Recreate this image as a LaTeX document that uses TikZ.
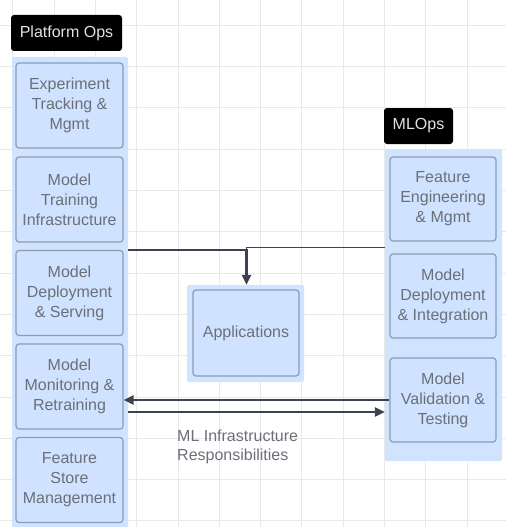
\documentclass[tikz,border=0pt]{standalone}
\usepackage{fontspec}
\setmainfont{Liberation Sans}
\usetikzlibrary{arrows.meta,calc}
\definecolor{gridc}{HTML}{E9E9E9}
\definecolor{contfill}{HTML}{D0E3FF}
\definecolor{boxfill}{HTML}{CFE2FF}
\definecolor{boxdraw}{HTML}{8E9CB0}
\definecolor{txtc}{HTML}{6B7078}
\definecolor{linec}{HTML}{3B4250}
\definecolor{tagtxt}{HTML}{E2E2E2}
\tikzset{
  cont/.style={fill=contfill, draw=none, rounded corners=2pt, inner sep=0pt},
  opbox/.style={fill=boxfill, draw=boxdraw, line width=1.2pt, rounded corners=3pt,
    minimum width=107pt, minimum height=85pt, align=center, text=txtc,
    font=\fontsize{16}{20}\selectfont, inner sep=0pt},
  tag/.style={fill=black, rounded corners=3pt, text=tagtxt, font=\fontsize{16}{20}\selectfont,
    inner sep=0pt},
  conn/.style={draw=linec, line width=2.4pt, -{Triangle[length=10pt,width=9pt]}},
  connb/.style={draw=linec, line width=1.8pt},
  note/.style={text=txtc, align=left, font=\fontsize{16}{19}\selectfont, inner sep=0pt}
}
\begin{document}
\begin{tikzpicture}[x=1pt,y=-1pt]
\useasboundingbox (0,0) rectangle (506,527);
\fill[white] (0,0) rectangle (506,527);
% grid
\foreach \i in {0,...,12} {
  \draw[gridc, line width=1pt] ({12.8+41.3*\i},0) -- ({12.8+41.3*\i},527);
  \draw[gridc, line width=1pt] (0,{25.3+41.3*\i}) -- (506,{25.3+41.3*\i});
}
% tags
\node[tag, minimum width=111pt, minimum height=36pt] (ptag) at (66.5,33) {Platform Ops};
\node[tag, minimum width=69pt, minimum height=36pt] (mtag) at (418.5,126) {MLOps};
% containers
\node[cont, minimum width=116pt, minimum height=476pt] (lcont) at (70,295) {};
\node[cont, minimum width=117pt, minimum height=312pt] (rcont) at (443.5,305) {};
\node[cont, minimum width=117pt, minimum height=97pt] (appc) at (245.5,333.5) {};
% left boxes
\node[opbox] (L1) at (69.5,105.5) {Experiment\\Tracking \&\\Mgmt};
\node[opbox] (L2) at (69.5,199.5) {Model\\Training\\Infrastructure};
\node[opbox] (L3) at (69.5,293) {Model\\Deployment\\\& Serving};
\node[opbox] (L4) at (69.5,386.5) {Model\\Monitoring \&\\Retraining};
\node[opbox] (L5) at (69.5,480) {Feature\\Store\\Management};
% right boxes
\node[opbox, minimum width=106pt, minimum height=84pt] (R1) at (443,199) {Feature\\Engineering\\\& Mgmt};
\node[opbox, minimum width=106pt, minimum height=84pt] (R2) at (443,296) {Model\\Deployment\\\& Integration};
\node[opbox, minimum width=106pt, minimum height=84pt] (R3) at (443,400) {Model\\Validation \&\\Testing};
% applications
\node[opbox, minimum width=106pt, minimum height=86pt] (app) at (246,333) {Applications};
% label
\node[note, anchor=west] (lbl) at (177,447) {ML Infrastructure\\Responsibilities};
% connectors
\coordinate (mlj) at (246.5,247.5);
\draw[connb] (rcont.west |- mlj) -- (mlj) -- (mlj |- L3.north);
\draw[conn] (L3.north -| lcont.east) -- (L3.north -| mlj) -- (mlj |- appc.north);
\draw[conn] (R3.west) -- (R3.west -| L4.east);
\draw[conn] ([yshift=-25.5pt]L4.east -| lcont.east) -- ([yshift=-25.5pt]L4.east -| rcont.west);
\end{tikzpicture}
\end{document}
